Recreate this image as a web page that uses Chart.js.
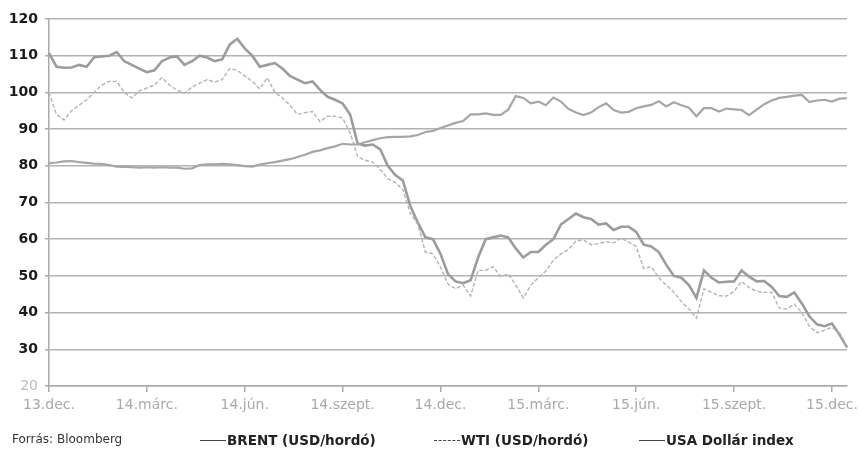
<!DOCTYPE html>
<html>
<head>
<meta charset="utf-8">
<script src="https://cdn.jsdelivr.net/npm/chart.js@4/dist/chart.umd.min.js"></script>
<style>
  html, body { margin: 0; padding: 0; background: #ffffff; }
  #wrap { position: relative; width: 860px; height: 449px; overflow: hidden; }
  #c { position: absolute; left: 0; top: 0; }
  .leg { position: absolute; top: 432px; height: 18px; line-height: 18px; white-space: nowrap; color: #222; }
  .src { left: 12px; font: 12px "DejaVu Sans", sans-serif; color: #333; }
  .item { font: bold 13.5px "DejaVu Sans", sans-serif; color: #222; }
  .sw { display: inline-block; vertical-align: middle; width: 26px; height: 0; border-top: 1.5px solid #444; margin-right: 1px; position: relative; top: -1px; }
  .sw.dash { border-top: 1.5px dashed #444; }
</style>
</head>
<body>
<div id="wrap">
  <canvas id="c" width="860" height="449"></canvas>
  <div class="leg src">Forrás: Bloomberg</div>
  <div class="leg item" style="left:200px"><span class="sw"></span>BRENT (USD/hordó)</div>
  <div class="leg item" style="left:434px"><span class="sw dash"></span>WTI (USD/hordó)</div>
  <div class="leg item" style="left:639px"><span class="sw"></span>USA Dollár index</div>
</div>
<script>
// Weekly observations, starting at 2013-12-02
const startDate = new Date(Date.UTC(2013, 11, 2));
const weekCount = 107;
const categories = [];
for (let i = 0; i < weekCount; i++) {
  const d = new Date(startDate.getTime() + i * 7 * 86400000);
  categories.push(d.toISOString().slice(0, 10));
}

// Axis tick labels and the week positions they sit on
const tickLabels = ['13.dec.', '14.márc.', '14.jún.', '14.szept.', '14.dec.', '15.márc.', '15.jún.', '15.szept.', '15.dec.'];
const tickWeeks = [0, 13, 26, 39, 52, 65, 78, 91, 104];

// BRENT (USD/hordó)
const brent = [
  110.7, 107.0, 106.7, 106.8, 107.5, 107.0, 109.6, 109.8, 110.0, 111.0,
  108.5, 107.5, 106.5, 105.5, 106.0, 108.5, 109.5, 109.8, 107.5, 108.5,
  110.0, 109.5, 108.5, 109.0, 113.0, 114.6, 112.0, 110.0, 107.0, 107.5,
  108.0, 106.5, 104.5, 103.5, 102.5, 103.0, 100.7, 98.8, 98.0, 97.0,
  94.0, 86.0, 85.5, 85.8, 84.5, 80.0, 77.5, 76.0, 69.0, 64.5,
  60.5, 60.0, 56.0, 50.5, 48.5, 48.0, 48.8, 55.0, 60.0, 60.5,
  61.0, 60.5, 57.5, 55.0, 56.5, 56.5, 58.5, 60.0, 64.0, 65.5,
  67.0, 66.0, 65.5, 64.0, 64.3, 62.5, 63.4, 63.4, 62.0, 58.5,
  58.0, 56.5, 53.0, 50.0, 49.5, 47.5, 44.0, 51.5, 49.5, 48.2,
  48.4, 48.5, 51.5, 49.8, 48.5, 48.6, 47.0, 44.5, 44.3, 45.5,
  42.5, 39.0, 36.8, 36.3, 37.0, 34.0, 30.5
];

// WTI (USD/hordó)
const wti = [
  100.0, 94.0, 92.5, 95.0, 96.5, 98.0, 100.0, 102.0, 103.0, 103.0,
  100.0, 98.5, 100.4, 101.2, 102.0, 104.0, 102.0, 100.6, 99.8, 101.5,
  102.5, 103.5, 102.8, 103.5, 106.5, 106.0, 104.5, 103.0, 101.0, 104.0,
  100.0, 98.5, 96.5, 94.0, 94.5, 94.8, 92.0, 93.5, 93.5, 93.0,
  89.0, 82.5, 81.5, 81.0, 79.0, 76.5, 75.5, 73.5, 67.0, 64.0,
  56.5, 56.0, 52.4, 47.8, 46.5, 47.5, 44.5, 51.5, 51.5, 52.5,
  49.8, 50.5, 47.5, 44.0, 47.5, 49.5, 51.3, 54.3, 56.0, 57.2,
  59.5, 59.8, 58.5, 58.8, 59.3, 59.0, 60.3, 59.2, 58.0, 52.0,
  52.5, 49.5, 47.5, 45.5, 43.0, 41.0, 38.5, 46.5, 45.5, 44.6,
  44.5, 45.8, 48.5, 46.8, 45.8, 45.5, 45.5, 41.2, 41.0, 42.3,
  40.0, 36.3, 34.5, 35.2, 36.0, 34.5, 30.7
];

// USA Dollár index
const usd = [
  80.7, 80.9, 81.2, 81.3, 81.0, 80.8, 80.6, 80.5, 80.2, 79.8,
  79.7, 79.6, 79.5, 79.6, 79.5, 79.6, 79.5, 79.5, 79.2, 79.3,
  80.2, 80.4, 80.4, 80.5, 80.4, 80.2, 79.9, 79.8, 80.3, 80.7,
  81.0, 81.4, 81.8, 82.4, 83.0, 83.8, 84.2, 84.8, 85.3, 86.0,
  85.8, 85.8, 86.4, 87.0, 87.5, 87.8, 87.9, 87.9, 88.0, 88.4,
  89.2, 89.5, 90.3, 91.0, 91.7, 92.2, 94.0, 94.0, 94.3, 93.9,
  93.9, 95.3, 99.0, 98.5, 97.0, 97.5, 96.5, 98.6, 97.5, 95.5,
  94.5, 93.8, 94.5, 96.0, 97.0, 95.2, 94.5, 94.7, 95.7, 96.2,
  96.6, 97.6, 96.2, 97.3, 96.5, 95.8, 93.5, 95.7, 95.7, 94.8,
  95.6, 95.4, 95.2, 93.8, 95.3, 96.8, 97.8, 98.5, 98.8, 99.1,
  99.3, 97.4, 97.8, 98.0, 97.5, 98.3, 98.4
];

const yMin = 20, yMax = 120, yStep = 10;

new Chart(document.getElementById('c'), {
  type: 'line',
  data: {
    labels: categories,
    datasets: [
      { label: 'USA Dollár index', data: usd, borderColor: '#a6a6a6', borderWidth: 2.2, pointRadius: 0, tension: 0 },
      { label: 'WTI (USD/hordó)', data: wti, borderColor: '#b4b4b4', borderWidth: 1.4, borderDash: [4, 2], pointRadius: 0, tension: 0 },
      { label: 'BRENT (USD/hordó)', data: brent, borderColor: '#9c9c9c', borderWidth: 2.6, pointRadius: 0, tension: 0 }
    ]
  },
  options: {
    responsive: false,
    animation: false,
    layout: { padding: { top: 19, right: 13, left: 0, bottom: 0 } },
    plugins: { legend: { display: false }, tooltip: { enabled: false } },
    scales: {
      x: {
        type: 'category',
        offset: false,
        border: { color: '#aaaaaa', width: 1.5 },
        grid: {
          drawOnChartArea: false,
          drawTicks: true,
          tickLength: 6,
          lineWidth: 1.5,
          color: ctx => tickWeeks.includes(ctx.index) ? '#aaaaaa' : 'rgba(0,0,0,0)',
          tickColor: ctx => tickWeeks.includes(ctx.index) ? '#aaaaaa' : 'rgba(0,0,0,0)'
        },
        ticks: {
          autoSkip: false,
          maxRotation: 0,
          minRotation: 0,
          padding: 5,
          color: '#a9a9a9',
          font: { family: 'DejaVu Sans', size: 14 },
          callback: (v, i) => { const k = tickWeeks.indexOf(i); return k >= 0 ? tickLabels[k] : ''; }
        },
        afterFit: s => { s.height = 449 - 386; }
      },
      y: {
        min: yMin,
        max: yMax,
        border: { color: '#aaaaaa', width: 1.5 },
        grid: { color: '#b3b3b3', lineWidth: 1.5, tickLength: 4, tickColor: '#aaaaaa' },
        ticks: {
          stepSize: yStep,
          padding: 7,
          color: ctx => ctx.tick && ctx.tick.value === 20 ? '#bdbdbd' : '#1a1a1a',
          font: ctx => ({ family: 'DejaVu Sans', size: 14, weight: ctx.tick && ctx.tick.value === 20 ? 'normal' : 'bold' })
        },
        afterFit: s => { s.width = 49; }
      }
    }
  }
});
</script>
</body>
</html>
